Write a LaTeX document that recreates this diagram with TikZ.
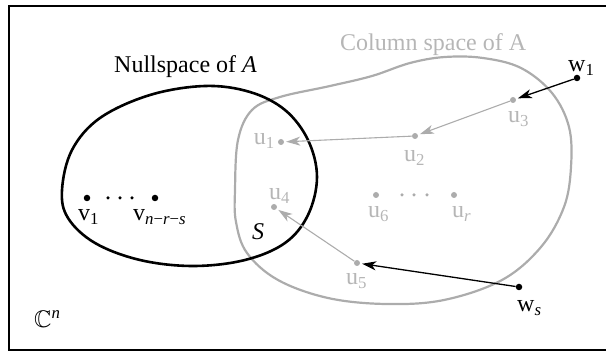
\documentclass[tikz,border=0pt]{standalone}
\usepackage{fontspec}
\usepackage{amssymb}
\setmainfont{Liberation Serif}
\usetikzlibrary{arrows.meta}
\definecolor{lgray}{RGB}{172,172,172}
\definecolor{tgray}{RGB}{182,182,182}
\begin{document}
\begin{tikzpicture}[x=1pt,y=-1pt,
  txt/.style={inner sep=0pt, font=\fontsize{24}{28}\selectfont},
  glab/.style={txt, text=tgray},
  bdot/.style={circle, fill=black, inner sep=0pt, minimum size=6.5pt},
  gdot/.style={circle, fill=lgray, inner sep=0pt, minimum size=6pt},
  sdot/.style={circle, fill=black, inner sep=0pt, minimum size=3.5pt},
  sgdot/.style={circle, fill=lgray, inner sep=0pt, minimum size=3.5pt},
  tip/.style={-{Stealth[length=14pt,width=9pt,inset=4pt]}},
  barr/.style={draw=black, line width=1.3pt, tip, shorten >=2pt},
  garr/.style={draw=lgray, line width=1.1pt, tip, shorten >=2pt},
]
\useasboundingbox (0,0) rectangle (606,352);
\clip (0,0) rectangle (606,352);
\draw[line width=2pt] (9,6) rectangle (614,350);

% column space (gray)
\draw[lgray, line width=2.2pt] plot[smooth cycle, tension=0.6] coordinates {
 (235,190) (238,140) (252,110) (280,97) (330,86) (372,76) (410,63) (445,57)
 (483,58) (521,68) (552,93) (569,127) (571,167) (564,207) (541,247) (502,280)
 (444,300) (386,304) (328,298) (278,280) (247,253) (236,222)};

% nullspace (black)
\draw[black, line width=2.6pt] plot[smooth cycle, tension=0.6] coordinates {
 (62,190) (72,150) (100,118) (150,95) (205,86) (250,92) (285,110) (308,140)
 (317,177) (308,215) (285,243) (245,260) (193,266) (140,260) (95,243) (68,218)};

% labels of regions
\node[txt, anchor=base west] (nl) at (114,73) {Nullspace of \textit{A}};
\node[glab, anchor=base west] (cl) at (340,51) {Column space of A};
\node[txt, anchor=base west] (Sl) at (252,240) {\textit{S}};
\node[txt, anchor=base west] (Cn) at (34,328) {$\mathbb{C}$\textsuperscript{\textit{n}}};

% nullspace vectors
\node[bdot] (v1) at (87,198) {};
\node[bdot] (vk) at (155,198) {};
\node[sdot] (vd1) at (108,198) {};
\node[sdot] (vd2) at (120,198) {};
\node[sdot] (vd3) at (132,198) {};
\node[txt, anchor=base west] (v1l) at (78,221) {v\textsubscript{1}};
\node[txt, anchor=base west] (vkl) at (133,221) {v\textsubscript{\textit{n}−\textit{r}−\textit{s}}};

% column space vectors
\node[gdot] (u1) at (281,142) {};
\node[gdot] (u2) at (415,136) {};
\node[gdot] (u3) at (513,100) {};
\node[gdot] (u4) at (274,207) {};
\node[gdot] (u5) at (357,263) {};
\node[gdot] (u6) at (376,195) {};
\node[gdot] (ur) at (454,195) {};
\node[sgdot] (ud1) at (402,195) {};
\node[sgdot] (ud2) at (414,195) {};
\node[sgdot] (ud3) at (427,195) {};
\node[glab, anchor=base east] (u1l) at (275,145) {u\textsubscript{1}};
\node[glab, anchor=base west] (u2l) at (404,162) {u\textsubscript{2}};
\node[glab, anchor=base west] (u3l) at (508,123) {u\textsubscript{3}};
\node[glab, anchor=base west] (u4l) at (269,200) {u\textsubscript{4}};
\node[glab, anchor=base west] (u5l) at (346,285) {u\textsubscript{5}};
\node[glab, anchor=base west] (u6l) at (368,218) {u\textsubscript{6}};
\node[glab, anchor=base west] (url) at (452,218) {u\textsubscript{\textit{r}}};

% outside vectors
\node[bdot] (w1) at (577,78) {};
\node[bdot] (ws) at (519,287) {};
\node[txt, anchor=base west] (w1l) at (568,72) {w\textsubscript{1}};
\node[txt, anchor=base west] (wsl) at (517,312) {w\textsubscript{\textit{s}}};

% arrows
\draw[barr] (w1) -- (u3);
\draw[barr] (ws) -- (u5);
\draw[garr] (u3) -- (u2);
\draw[garr] (u2) -- (u1);
\draw[garr] (u5) -- (u4);
\end{tikzpicture}
\end{document}
